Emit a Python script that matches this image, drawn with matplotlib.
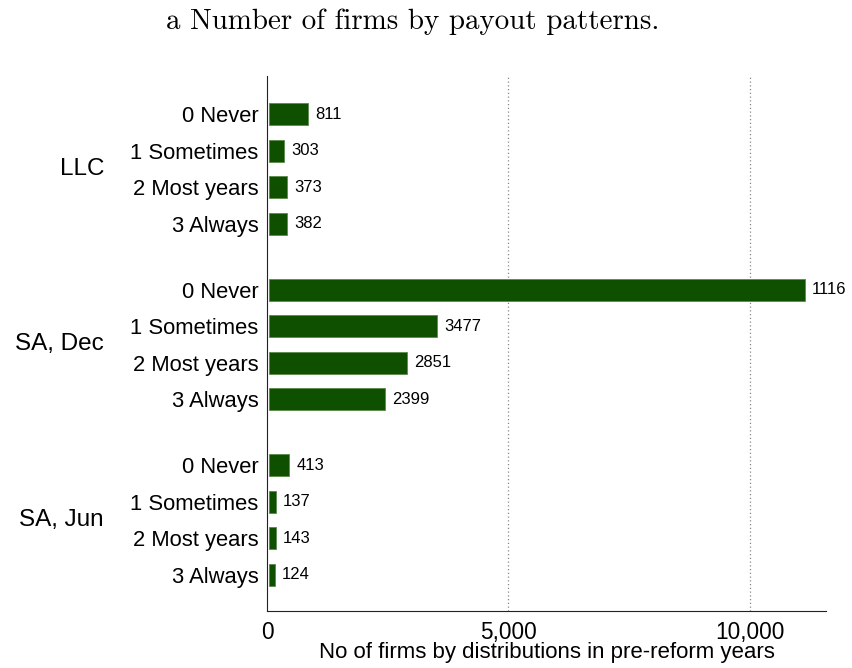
import matplotlib
matplotlib.use("Agg")
import matplotlib.pyplot as plt

# === DATA ===
groups = ["LLC", "SA, Dec", "SA, Jun"]
patterns = ["0 Never", "1 Sometimes", "2 Most years", "3 Always"]
llc_counts = [811, 303, 373, 382]
sa_dec_counts = [11100, 3477, 2851, 2399]
sa_jun_counts = [413, 137, 143, 124]
# printed labels as they appear on the chart (the long bar's label is cut)
llc_labels = ["811", "303", "373", "382"]
sa_dec_labels = ["1116", "3477", "2851", "2399"]
sa_jun_labels = ["413", "137", "143", "124"]
xticks = [0, 5000, 10000]
xtick_labels = ["0", "5,000", "10,000"]

# === SETUP ===
plt.rcParams['font.family'] = ['Liberation Sans', 'DejaVu Sans']
BAR_COLOR = '#0f5000'
GROUP_GAP = 1.8

fig = plt.figure(figsize=(8.52, 6.68), dpi=100)
ax = fig.add_axes([0.3134, 0.0853, 0.6561, 0.8009])

all_counts = [llc_counts, sa_dec_counts, sa_jun_counts]
all_labels = [llc_labels, sa_dec_labels, sa_jun_labels]

ypos, yticklabels = [], []
for g, (counts, labels) in enumerate(zip(all_counts, all_labels)):
    base = g * (len(patterns) + GROUP_GAP - 1)
    ys = [base + i for i in range(len(patterns))]
    ax.barh(ys, counts, height=0.6, left=40, color=BAR_COLOR,
            edgecolor='#5a8a4a', linewidth=0.6, zorder=3)
    for y, c, lab in zip(ys, counts, labels):
        ax.text(c + 190, y, lab, va='center', ha='left', fontsize=12)
    ypos += ys
    yticklabels += patterns
    # group name at the left, centred on the group
    ax.text(-0.2916, (ys[1] + ys[2]) / 2, groups[g], transform=ax.get_yaxis_transform(),
            ha='right', va='center', fontsize=17.5)

ax.set_yticks(ypos)
ax.set_yticklabels(yticklabels, fontsize=15.8)
ax.set_ylim(ypos[-1] + 0.99, -1.04)
ax.set_xlim(0, 11580)
ax.set_xticks(xticks)
ax.set_xticklabels(xtick_labels, fontsize=16.3)
ax.tick_params(axis='y', length=0, pad=6)
ax.tick_params(axis='x', length=0, pad=7)

for x in xticks[1:]:
    ax.axvline(x, color='#888888', linestyle=(0, (1, 2)), linewidth=0.9, zorder=1)

ax.spines['top'].set_visible(False)
ax.spines['right'].set_visible(False)
ax.spines['left'].set_color('#222222')
ax.spines['bottom'].set_color('#222222')

ax.set_xlabel("No of firms by distributions in pre-reform years", fontsize=16, labelpad=-1)

fig.text(0.484, 0.968, "a Number of firms by payout patterns.", ha='center', va='center',
         fontsize=20.9, family=['cmr10', 'DejaVu Serif'])

fig.savefig("out.png", dpi=100)
